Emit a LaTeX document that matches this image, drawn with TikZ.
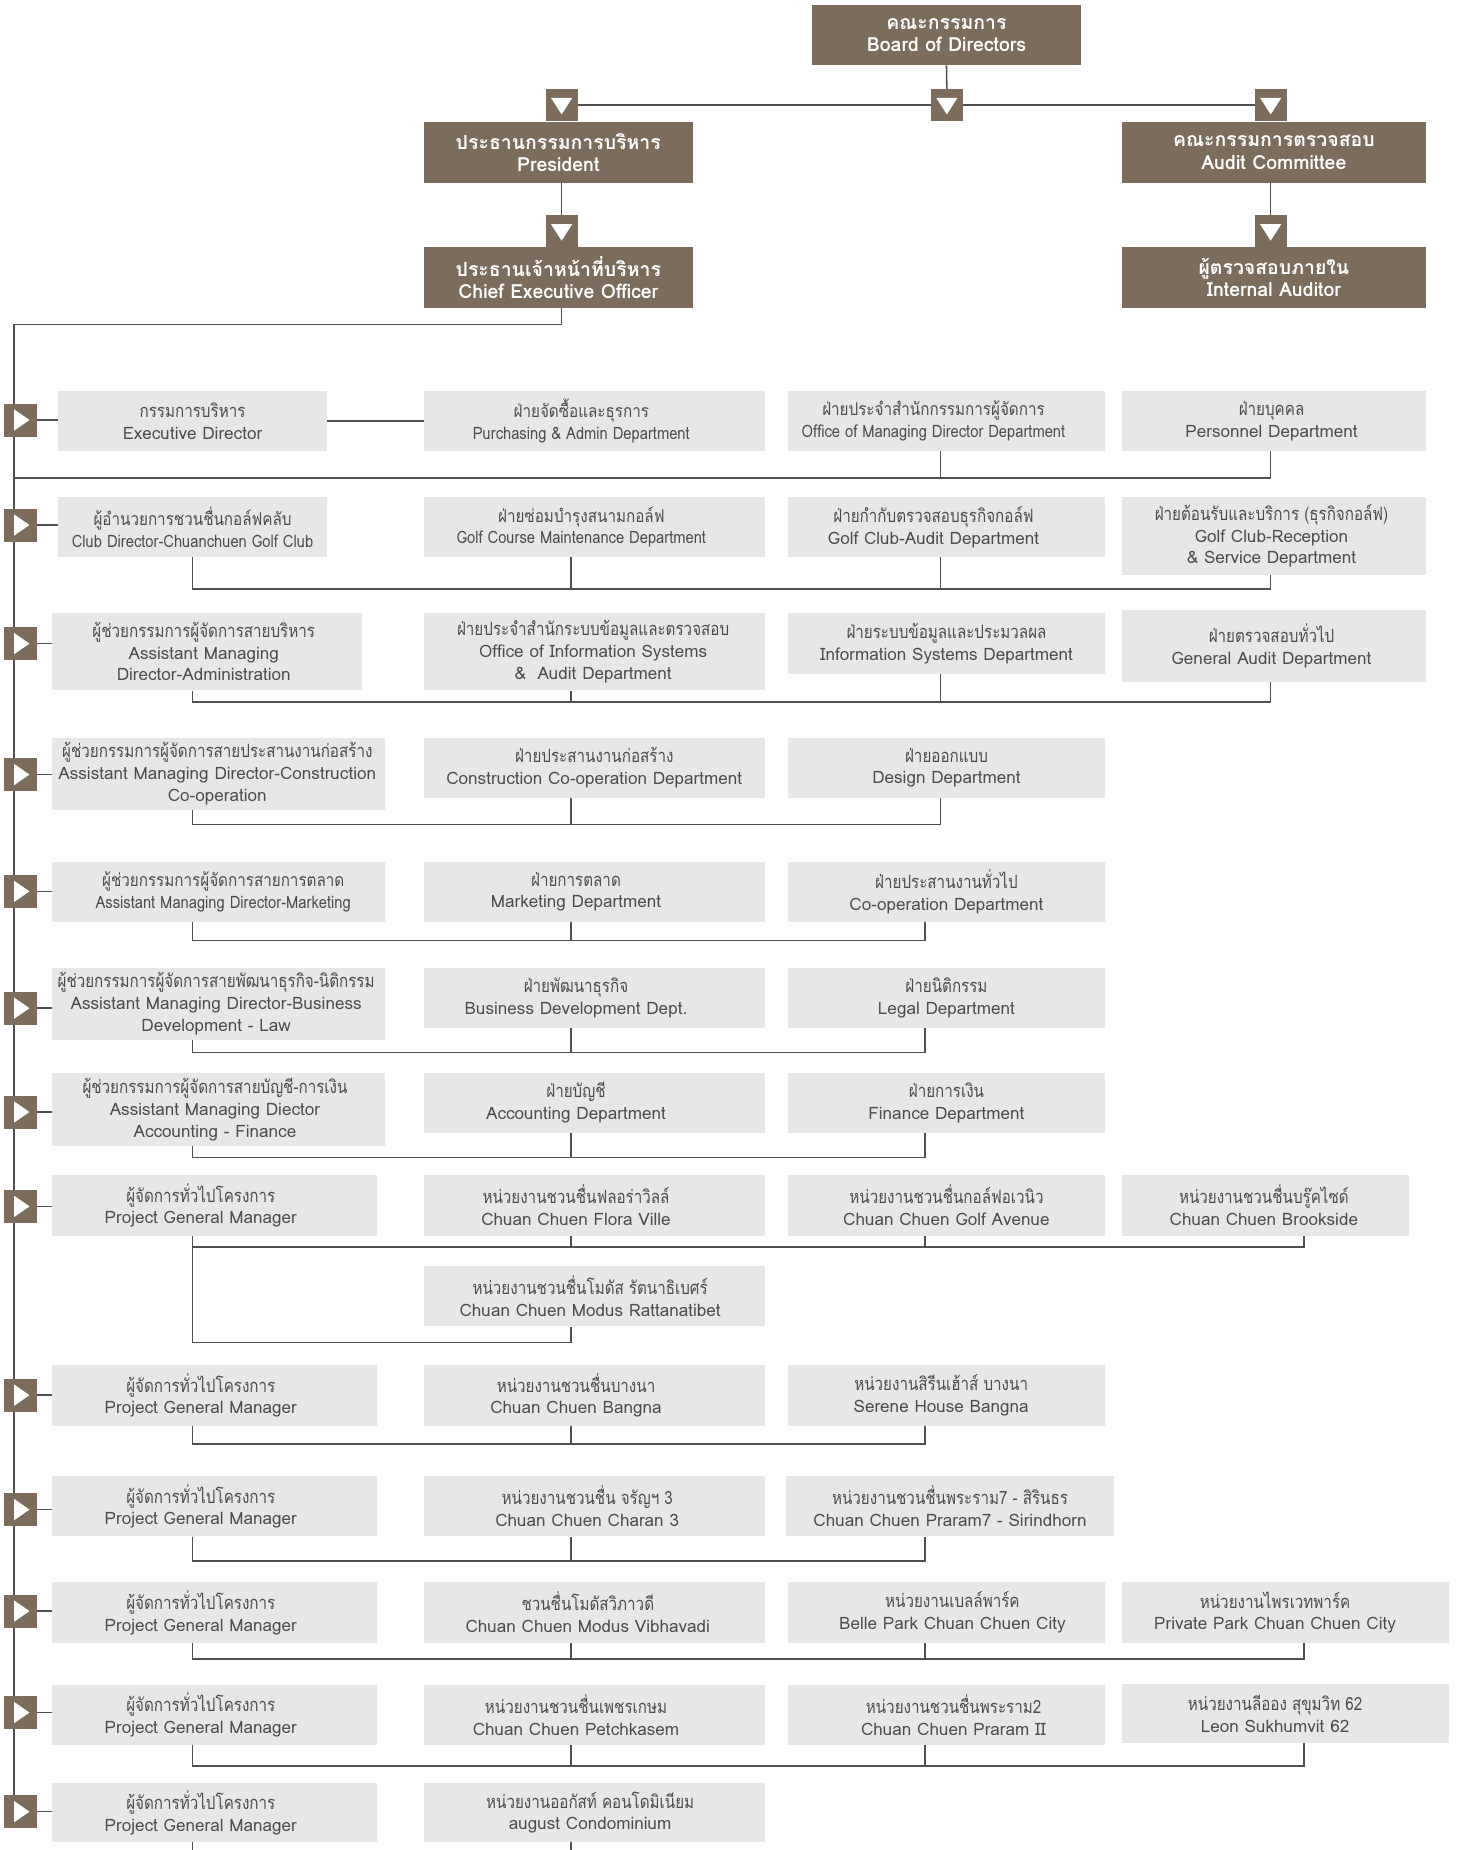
\documentclass[tikz,border=0pt]{standalone}
\usepackage{fontspec}
\setmainfont{Loma}[Script=Thai]
\newfontfamily\thaifont{Loma}[Script=Thai,FakeStretch=0.83]
\newfontfamily\thainarrow{Loma}[Script=Thai,FakeStretch=0.86]
\newfontfamily\latinnarrow{Loma}[Script=Thai,FakeStretch=0.86]
\usepackage{tikz}

\definecolor{boardbrown}{HTML}{7B6C5B}
\definecolor{boxgray}{HTML}{E6E7E8}
\definecolor{textgray}{HTML}{4D4D4F}
\definecolor{linegray}{HTML}{505050}

\tikzset{
  head/.style={anchor=north west, fill=boardbrown, text=white, inner sep=0pt, align=center,
    font=\bfseries\fontsize{16.5}{19}\selectfont},
  dept/.style={anchor=north west, fill=boxgray, inner sep=0pt},
  depttext/.style={text=textgray, inner sep=0pt, align=center,
    font={\fontsize{14.5}{18.5}\selectfont\def\thaiset{\thaifont\fontsize{15.5}{18.5}\selectfont}}},
  squeeze/.style={font={\latinnarrow\fontsize{14.5}{18.5}\selectfont\def\thaiset{\thainarrow\fontsize{15}{18.5}\selectfont}}},
  dmark/.style={fill=boardbrown, minimum size=27pt, inner sep=0pt,
    path picture={\fill[white] ([xshift=-9pt,yshift=6pt]path picture bounding box.center)
      -- ([xshift=9pt,yshift=6pt]path picture bounding box.center)
      -- ([yshift=-8pt]path picture bounding box.center) -- cycle;}},
  rmark/.style={fill=boardbrown, minimum size=28pt, inner sep=0pt,
    path picture={\fill[white] ([xshift=-5pt,yshift=9pt]path picture bounding box.center)
      -- ([xshift=-5pt,yshift=-9pt]path picture bounding box.center)
      -- ([xshift=8pt]path picture bounding box.center) -- cycle;}},
  link/.style={draw=linegray, line width=1.3pt},
}

% gray box plus its text (text may sit off the box centre)
\newcommand{\deptbox}[8][]{%
  \node[dept, minimum width=#4pt, minimum height=#5pt] (#2) at (#3) {};
  \node[depttext, #1] (#2t) at ([xshift=#6pt]#2.center) {{\thaiset #7}\\#8};}

\begin{document}
\begin{tikzpicture}[x=1pt, y=-1pt]
    \useasboundingbox (0,0) rectangle (1235,1568);

    % columns and buses
    \coordinate (colA) at (163,0);
    \coordinate (colB) at (484,0);
    \coordinate (colC) at (797,0);
    \coordinate (colE) at (784,0);
    \coordinate (colD) at (1077,0);
    \coordinate (colF) at (1105,0);
    \coordinate (spinetop) at (12,275);
    \coordinate (bottom) at (0,1568);

    %% top of the chart
    \node[head, minimum width=228pt, minimum height=51pt] (board) at (688,4) {คณะกรรมการ\\Board of Directors};
    \node[head, minimum width=228pt, minimum height=52pt] (pres) at (359,103) {ประธานกรรมการบริหาร\\President};
    \node[head, minimum width=257pt, minimum height=52pt] (audit) at (951,103) {คณะกรรมการตรวจสอบ\\Audit Committee};
    \node[head, minimum width=228pt, minimum height=52pt] (ceo) at (359,209) {ประธานเจ้าหน้าที่บริหาร\\Chief Executive Officer};
    \node[head, minimum width=257pt, minimum height=52pt] (intaud) at (951,209) {ผู้ตรวจสอบภายใน\\Internal Auditor};

    \node[dmark] (mP) at (476,89) {};
    \node[dmark] (mB) at (802.5,89) {};
    \node[dmark] (mA) at (1077,89) {};
    \node[dmark] (mC) at (476,196) {};
    \node[dmark] (mI) at (1077,196) {};

    \draw[link] (board.south) -- (mB.north);
    \draw[link] (mP.east) -- (mB.west);
    \draw[link] (mB.east) -- (mA.west);
    \draw[link] (pres.south -| mC) -- (mC.north);
    \draw[link] (audit.south -| mI) -- (mI.north);
    \draw[link] (ceo.south -| mC) |- (spinetop);

    %% rows of departments
    \deptbox{a1}{49,331}{228}{51}{0}{กรรมการบริหาร}{Executive Director}
    \deptbox[squeeze]{b1}{359,331}{289}{51}{-11}{ฝ่ายจัดซื้อและธุรการ}{Purchasing \& Admin Department}
    \deptbox[squeeze]{c1}{668,331}{268}{51}{-11}{ฝ่ายประจำสำนักกรรมการผู้จัดการ}{Office of Managing Director Department}
    \deptbox{d1}{951,331}{257}{51}{-2}{ฝ่ายบุคคล}{Personnel Department}

    \deptbox[squeeze]{a2}{49,421}{228}{51}{0}{ผู้อำนวยการชวนชื่นกอล์ฟคลับ}{Club Director-Chuanchuen Golf Club}
    \deptbox[squeeze]{b2}{359,421}{289}{51}{-11}{ฝ่ายซ่อมบำรุงสนามกอล์ฟ}{Golf Course Maintenance Department}
    \deptbox{c2}{668,421}{268}{51}{-11}{ฝ่ายกำกับตรวจสอบธุรกิจกอล์ฟ}{Golf Club-Audit Department}
    \deptbox{d2}{951,421}{257}{66}{-2}{ฝ่ายต้อนรับและบริการ (ธุรกิจกอล์ฟ)}{Golf Club-Reception\\\& Service Department}

    \deptbox{a3}{44,519}{263}{66}{-3}{ผู้ช่วยกรรมการผู้จัดการสายบริหาร}{Assistant Managing\\Director-Administration}
    \deptbox{b3}{359,519}{289}{66}{-1}{ฝ่ายประจำสำนักระบบข้อมูลและตรวจสอบ}{Office of Information Systems\\\&\ \ Audit Department}
    \deptbox{c3}{668,519}{268}{52}{0}{ฝ่ายระบบข้อมูลและประมวลผล}{Information Systems Department}
    \deptbox{d3}{951,517}{257}{61}{-2}{ฝ่ายตรวจสอบทั่วไป}{General Audit Department}

    \deptbox{a4}{44,625}{282}{61}{-1}{ผู้ช่วยกรรมการผู้จัดการสายประสานงานก่อสร้าง}{Assistant Managing Director-Construction\\Co-operation}
    \deptbox{b4}{359,625}{289}{51}{0}{ฝ่ายประสานงานก่อสร้าง}{Construction Co-operation Department}
    \deptbox{c4}{668,625}{268}{51}{0}{ฝ่ายออกแบบ}{Design Department}

    \deptbox[squeeze]{a5}{44,730}{282}{51}{4}{ผู้ช่วยกรรมการผู้จัดการสายการตลาด}{Assistant Managing Director-Marketing}
    \deptbox{b5}{359,730}{289}{51}{-15.5}{ฝ่ายการตลาด}{Marketing Department}
    \deptbox{c5}{668,730}{268}{51}{0}{ฝ่ายประสานงานทั่วไป}{Co-operation Department}

    \deptbox{a6}{44,820}{282}{61}{-2}{ผู้ช่วยกรรมการผู้จัดการสายพัฒนาธุรกิจ-นิติกรรม}{Assistant Managing Director-Business\\Development - Law}
    \deptbox{b6}{359,820}{289}{51}{-15.5}{ฝ่ายพัฒนาธุรกิจ}{Business Development Dept.}
    \deptbox{c6}{668,820}{268}{51}{0}{ฝ่ายนิติกรรม}{Legal Department}

    \deptbox{a7}{44,909}{282}{62}{-3}{ผู้ช่วยกรรมการผู้จัดการสายบัญชี-การเงิน}{Assistant Managing Diector\\Accounting - Finance}
    \deptbox{b7}{359,909}{289}{51}{-15.5}{ฝ่ายบัญชี}{Accounting Department}
    \deptbox{c7}{668,909}{268}{51}{0}{ฝ่ายการเงิน}{Finance Department}

    \deptbox{a8}{44,996}{275}{51}{-11.5}{ผู้จัดการทั่วไปโครงการ}{Project General Manager}
    \deptbox{b8}{359,996}{289}{51}{-15.5}{หน่วยงานชวนชื่นฟลอร่าวิลล์}{Chuan Chuen Flora Ville}
    \deptbox{c8}{668,996}{268}{51}{0}{หน่วยงานชวนชื่นกอล์ฟอเวนิว}{Chuan Chuen Golf Avenue}
    \deptbox{d8}{951,996}{243}{51}{-1.5}{หน่วยงานชวนชื่นบรู๊คไซด์}{Chuan Chuen Brookside}
    \deptbox{e8}{359,1073}{289}{51}{-3.5}{หน่วยงานชวนชื่นโมดัส รัตนาธิเบศร์}{Chuan Chuen Modus Rattanatibet}

    \deptbox{a9}{44,1157}{275}{51}{-11.5}{ผู้จัดการทั่วไปโครงการ}{Project General Manager}
    \deptbox{b9}{359,1157}{289}{51}{-15.5}{หน่วยงานชวนชื่นบางนา}{Chuan Chuen Bangna}
    \deptbox{c9}{668,1157}{268}{51}{-4.5}{หน่วยงานสิรีนเฮ้าส์ บางนา}{Serene House Bangna}

    \deptbox{a10}{44,1251}{275}{51}{-11.5}{ผู้จัดการทั่วไปโครงการ}{Project General Manager}
    \deptbox{b10}{359,1251}{289}{51}{-6}{หน่วยงานชวนชื่น จรัญฯ 3}{Chuan Chuen Charan 3}
    \deptbox{c10}{666,1251}{278}{51}{0}{หน่วยงานชวนชื่นพระราม7 - สิรินธร}{Chuan Chuen Praram7 - Sirindhorn}

    \deptbox{a11}{44,1341}{275}{51}{-11.5}{ผู้จัดการทั่วไปโครงการ}{Project General Manager}
    \deptbox{b11}{359,1341}{289}{51}{-5.5}{ชวนชื่นโมดัสวิภาวดี}{Chuan Chuen Modus Vibhavadi}
    \deptbox{c11}{668,1341}{268}{51}{5}{หน่วยงานเบลล์พาร์ค}{Belle Park Chuan Chuen City}
    \deptbox{d11}{951,1341}{277}{51}{-9}{หน่วยงานไพรเวทพาร์ค}{Private Park Chuan Chuen City}

    \deptbox{a12}{44,1428}{275}{51}{-11.5}{ผู้จัดการทั่วไปโครงการ}{Project General Manager}
    \deptbox{b12}{359,1428}{289}{51}{-15.5}{หน่วยงานชวนชื่นเพชรเกษม}{Chuan Chuen Petchkasem}
    \deptbox{c12}{668,1428}{268}{51}{6}{หน่วยงานชวนชื่นพระราม2}{Chuan Chuen Praram II}
    \deptbox{d12}{951,1427}{277}{50}{-9}{หน่วยงานลีออง สุขุมวิท 62}{Leon Sukhumvit 62}

    \deptbox{a13}{44,1511}{275}{50}{-11.5}{ผู้จัดการทั่วไปโครงการ}{Project General Manager}
    \deptbox{b13}{359,1511}{289}{50}{-3.5}{หน่วยงานออกัสท์ คอนโดมิเนียม}{august Condominium}

    %% spine and row markers
    \draw[link] (spinetop) -- (spinetop |- 0,1535);
    \foreach \i/\y in {1/356, 2/445, 3/545.5, 4/656.5, 5/755.5, 6/854.5, 7/942.5,
                       8/1022.5, 9/1182.5, 10/1279.5, 11/1365.5, 12/1451.5, 13/1535.5}
    {
        \node[rmark] (rm\i) at (17,\y) {};
        \draw[link] (rm\i.east) -- (rm\i.east -| a\i.west);
    }

    %% connectors under each row
    \coordinate (bus1) at (0,405);
    \draw[link] (a1.east) -- (b1.west);
    \draw[link] (c1.south -| colC) -- (bus1 -| colC);
    \draw[link] (d1.south -| colD) |- (bus1 -| spinetop);

    \coordinate (bus2) at (0,499);
    \draw[link] (a2.south -| colA) |- (bus2 -| colD) -- (d2.south -| colD);
    \draw[link] (b2.south -| colB) -- (bus2 -| colB);
    \draw[link] (c2.south -| colC) -- (bus2 -| colC);

    \coordinate (bus3) at (0,595);
    \draw[link] (a3.south -| colA) |- (bus3 -| colD) -- (d3.south -| colD);
    \draw[link] (b3.south -| colB) -- (bus3 -| colB);
    \draw[link] (c3.south -| colC) -- (bus3 -| colC);

    \coordinate (bus4) at (0,699);
    \draw[link] (a4.south -| colA) |- (bus4 -| colC) -- (c4.south -| colC);
    \draw[link] (b4.south -| colB) -- (bus4 -| colB);

    \coordinate (bus5) at (0,797);
    \draw[link] (a5.south -| colA) |- (bus5 -| colE) -- (c5.south -| colE);
    \draw[link] (b5.south -| colB) -- (bus5 -| colB);

    \coordinate (bus6) at (0,892);
    \draw[link] (a6.south -| colA) |- (bus6 -| colE) -- (c6.south -| colE);
    \draw[link] (b6.south -| colB) -- (bus6 -| colB);

    \coordinate (bus7) at (0,981);
    \draw[link] (a7.south -| colA) |- (bus7 -| colE) -- (c7.south -| colE);
    \draw[link] (b7.south -| colB) -- (bus7 -| colB);

    \coordinate (bus8) at (0,1057);
    \coordinate (bus8e) at (0,1138);
    \draw[link] (a8.south -| colA) |- (bus8 -| colF) -- (d8.south -| colF);
    \draw[link] (b8.south -| colB) -- (bus8 -| colB);
    \draw[link] (c8.south -| colE) -- (bus8 -| colE);
    \draw[link] (bus8 -| colA) |- (bus8e -| colB) -- (e8.south -| colB);

    \coordinate (bus9) at (0,1224);
    \draw[link] (a9.south -| colA) |- (bus9 -| colE) -- (c9.south -| colE);
    \draw[link] (b9.south -| colB) -- (bus9 -| colB);

    \coordinate (bus10) at (0,1323);
    \draw[link] (a10.south -| colA) |- (bus10 -| colE) -- (c10.south -| colE);
    \draw[link] (b10.south -| colB) -- (bus10 -| colB);

    \coordinate (bus11) at (0,1406);
    \draw[link] (a11.south -| colA) |- (bus11 -| colF) -- (d11.south -| colF);
    \draw[link] (b11.south -| colB) -- (bus11 -| colB);
    \draw[link] (c11.south -| colE) -- (bus11 -| colE);

    \coordinate (bus12) at (0,1497);
    \draw[link] (a12.south -| colA) |- (bus12 -| colF) -- (d12.south -| colF);
    \draw[link] (b12.south -| colB) -- (bus12 -| colB);
    \draw[link] (c12.south -| colE) -- (bus12 -| colE);

    \draw[link] (a13.south -| colA) -- (bottom -| colA);
    \draw[link] (b13.south -| colB) -- (bottom -| colB);
\end{tikzpicture}
\end{document}
